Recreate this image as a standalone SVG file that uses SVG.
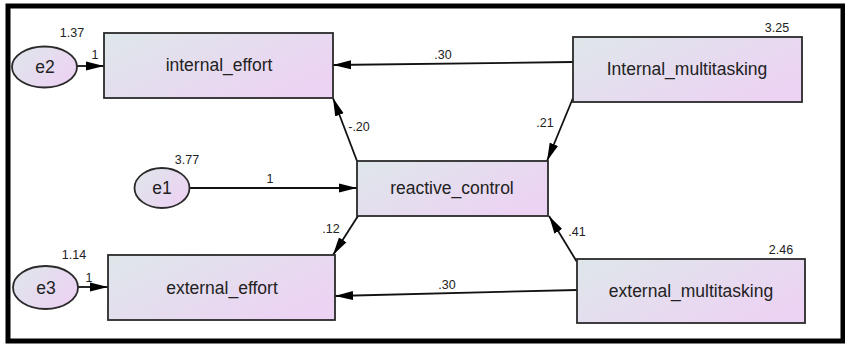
<svg xmlns="http://www.w3.org/2000/svg" width="845" height="345" viewBox="0 0 845 345">
<defs>
<linearGradient id="g" x1="0" y1="0" x2="1" y2="0.6">
<stop offset="0" stop-color="#dee7ea"/>
<stop offset="1" stop-color="#ecd3f3"/>
</linearGradient>
<marker id="ah" viewBox="0 0 18 10" refX="18" refY="5" markerWidth="18" markerHeight="10" markerUnits="userSpaceOnUse" orient="auto">
<path d="M0,0.5 L18,5 L0,9.5 Z" fill="#000"/>
</marker>
<style>
.box{fill:url(#g);stroke:#2a2a2a;stroke-width:1.8}
.lbl{font-family:"Liberation Sans",Arial,sans-serif;font-size:17.5px;fill:#222;text-anchor:middle}
.num{font-family:"Liberation Sans",Arial,sans-serif;font-size:12.5px;fill:#222;text-anchor:middle}
.cn{stroke:#111;stroke-width:1.8;fill:none;marker-end:url(#ah)}
</style>
</defs>
<rect x="8" y="6" width="835" height="335" fill="#fff" stroke="#000" stroke-width="5"/>
<g id="connectors">
<line class="cn" x1="77" y1="66" x2="104" y2="66"/>
<line class="cn" x1="573" y1="62" x2="333" y2="65"/>
<line class="cn" x1="573" y1="98" x2="547" y2="161"/>
<line class="cn" x1="357" y1="161" x2="333" y2="98"/>
<line class="cn" x1="189" y1="188" x2="357" y2="188"/>
<line class="cn" x1="358" y1="216" x2="333" y2="255"/>
<line class="cn" x1="577" y1="262" x2="549" y2="216"/>
<line class="cn" x1="577" y1="290" x2="335" y2="296"/>
<line class="cn" x1="78" y1="287" x2="108" y2="287"/>
<text class="num" x="95" y="59">1</text>
<text class="num" x="443" y="59">.30</text>
<text class="num" x="545" y="127">.21</text>
<text class="num" x="359" y="131">-.20</text>
<text class="num" x="270" y="183">1</text>
<text class="num" x="331" y="233">.12</text>
<text class="num" x="577" y="236">.41</text>
<text class="num" x="447" y="289">.30</text>
<text class="num" x="89" y="282">1</text>
</g>
<g id="e2">
<ellipse class="box" cx="44.5" cy="67" rx="32.5" ry="20.5"/>
<text class="lbl" x="45" y="73">e2</text>
<text class="num" x="72" y="37">1.37</text>
</g>
<g id="internal_effort">
<rect class="box" x="104" y="33" width="229" height="65"/>
<text class="lbl" x="219" y="71">internal_effort</text>
</g>
<g id="Internal_multitasking">
<rect class="box" x="573" y="37" width="229" height="65"/>
<text class="lbl" x="687" y="75">Internal_multitasking</text>
<text class="num" x="777" y="32">3.25</text>
</g>
<g id="e1">
<ellipse class="box" cx="162" cy="188" rx="27.5" ry="20"/>
<text class="lbl" x="162" y="194">e1</text>
<text class="num" x="187" y="164">3.77</text>
</g>
<g id="reactive_control">
<rect class="box" x="357" y="161" width="191" height="55"/>
<text class="lbl" x="452" y="194">reactive_control</text>
</g>
<g id="e3">
<ellipse class="box" cx="45.5" cy="287.5" rx="32.5" ry="21.5"/>
<text class="lbl" x="46" y="294">e3</text>
<text class="num" x="74" y="259">1.14</text>
</g>
<g id="external_effort">
<rect class="box" x="108" y="255" width="227" height="65"/>
<text class="lbl" x="222" y="294">external_effort</text>
</g>
<g id="external_multitasking">
<rect class="box" x="577" y="259" width="228" height="64"/>
<text class="lbl" x="691" y="297">external_multitasking</text>
<text class="num" x="781" y="254">2.46</text>
</g>
</svg>
